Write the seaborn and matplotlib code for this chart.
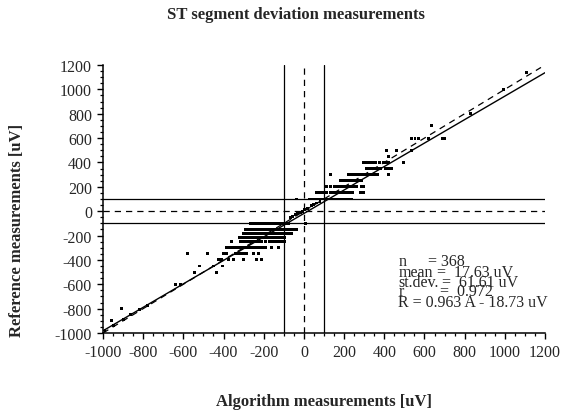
import numpy as np
import pandas as pd
import matplotlib
matplotlib.use("Agg")
import matplotlib.pyplot as plt
from matplotlib.ticker import MultipleLocator
import seaborn as sns

# reference levels (uV) and algorithm values found on each level
row_levels = [-100, -150, -185, -215, -250, -300, -350, -400, -450, -500, -600, -800, -900,
              100, 150, 200, 250, 300, 350, 400, 450, 500, 600, 700, 800, 1000, 1140]
row_algo = [
    [-265, -250, -235, -220, -205, -190, -175, -160, -145, -130, -115, -100, -88, -76, 10],
    [-290, -278, -266, -254, -242, -230, -218, -206, -194, -182, -170, -158, -146, -134, -122,
     -110, -98, -86, -74, -62, -50, -38],
    [-300, -288, -276, -264, -252, -240, -228, -216, -204, -192, -180, -168, -156, -144, -132,
     -120, -108, -96, -84, -72, -61],
    [-320, -308, -296, -284, -272, -260, -248, -236, -224, -212, -200, -188, -176, -164, -152,
     -140, -128, -116, -104, -94],
    [-360, -318, -306, -294, -282, -270, -258, -246, -234, -222, -210, -190, -170, -155, -140,
     -125, -110, -96],
    [-384, -372, -360, -348, -336, -324, -312, -300, -288, -276, -264, -252, -240, -228, -216,
     -204, -192, -160, -127],
    [-580, -480, -401, -384, -343, -331, -319, -307, -295, -285, -252, -227],
    [-426, -409, -375, -351, -302, -235, -210],
    [-520, -451, -405],
    [-545, -435],
    [-640, -615],
    [-910],
    [-960],
    [-35, 30, 42, 54, 66, 78, 90, 102, 114, 126, 138, 150, 162, 174, 186, 198, 210, 222, 235],
    [65, 78, 90, 103, 115, 130, 142, 154, 166, 180, 192, 204, 216, 228, 240, 280, 296],
    [113, 130, 150, 165, 178, 190, 202, 214, 226, 238, 250, 263, 288, 296],
    [180, 196, 210, 222, 234, 246, 258, 271, 288],
    [130, 220, 232, 244, 256, 268, 280, 292, 304, 316, 329, 341, 353, 365, 420],
    [312, 324, 336, 348, 360, 372, 379, 404, 415, 426, 437],
    [296, 308, 320, 332, 344, 355, 375, 395, 407, 420, 495],
    [420],
    [410, 462, 535],
    [535, 553, 570, 620, 690, 702],
    [635],
    [827],
    [995],
    [1110],
]

# scattered points lying close to the regression line
line_algo = [-990, -950, -900, -865, -820, -780, -69, -55, -44, -30, -19, -5, 5, 20, 39, 50, 64, 80]
line_ref = [-980, -940, -890, -850, -810, -775, -50, -40, -31, -20, -9, 0, 12, 25, 45, 55, 67, 80]

slope, intercept = 0.963, -18.73
stats_lines = [("n", "= 368"), ("mean", "=  17.63 uV"), ("st.dev.", "=  61.61 uV"),
               ("r", "=  0.972")]
fit_text = "R = 0.963 A - 18.73 uV"

algo, ref = [], []
for lev, xs in zip(row_levels, row_algo):
    algo += xs
    ref += [lev] * len(xs)
algo += line_algo
ref += line_ref
df = pd.DataFrame({"algo": algo, "ref": ref})

sns.set_style("ticks")
plt.rcParams["font.family"] = ["Liberation Serif", "DejaVu Serif"]
plt.rcParams["axes.unicode_minus"] = False

fig = plt.figure(figsize=(5.68, 4.14), dpi=100)
ax = fig.add_axes([103 / 568, 1 - 334 / 414, 442 / 568, 268 / 414])

ax.axhline(100, color="black", lw=0.9)
ax.axhline(-100, color="black", lw=0.9)
ax.axhline(0, color="black", lw=0.9, ls=(0, (5, 4)))
ax.axvline(100, color="black", lw=0.9)
ax.axvline(-100, color="black", lw=0.9)
ax.axvline(0, color="black", lw=0.9, ls=(0, (5, 4)))

xs = np.array([-1000, 1200])
ax.plot(xs, slope * xs + intercept, color="black", lw=1.0)
ax.plot([-1000, 1180], [-1000, 1180], color="black", lw=0.9, ls=(0, (5, 4)))

sns.scatterplot(data=df, x="algo", y="ref", ax=ax, color="black", s=4.5, marker="s",
                edgecolor="none", linewidth=0)

ax.set_xlim(-1000, 1200)
ax.set_ylim(-1000, 1200)
ax.xaxis.set_major_locator(MultipleLocator(200))
ax.yaxis.set_major_locator(MultipleLocator(200))
ax.xaxis.set_minor_locator(MultipleLocator(50))
ax.yaxis.set_minor_locator(MultipleLocator(50))
ax.tick_params(which="major", direction="out", length=4, width=1, labelsize=11.5, pad=4,
               color="black")
ax.tick_params(which="minor", direction="out", length=2.5, width=0.9, color="black")
sns.despine(ax=ax)
for sp in ["left", "bottom"]:
    ax.spines[sp].set_color("black")
    ax.spines[sp].set_linewidth(1.1)
ax.set_xlabel("")
ax.set_ylabel("")

for i, (lab, val) in enumerate(stats_lines):
    y = [0.268, 0.226, 0.191, 0.156][i]
    ax.text(0.668, y, lab, transform=ax.transAxes, fontsize=11.5, va="center", ha="left")
    ax.text([0.735, 0.756, 0.766, 0.762][i], y, val, transform=ax.transAxes, fontsize=11.5,
            va="center", ha="left")
ax.text(0.668, 0.114, fit_text, transform=ax.transAxes, fontsize=11.5, va="center", ha="left")

fig.text(296 / 568, 1 - 15 / 414, "ST segment deviation measurements", ha="center",
         va="center", fontsize=12, fontweight="bold")
fig.text(324 / 568, 1 - 402 / 414, "Algorithm measurements [uV]", ha="center", va="center",
         fontsize=12, fontweight="bold")
fig.text(17 / 568, 1 - 230 / 414, "Reference measurements [uV]", ha="center", va="center",
         fontsize=12, fontweight="bold", rotation=90)

fig.savefig("out.png", dpi=100, facecolor="white")
